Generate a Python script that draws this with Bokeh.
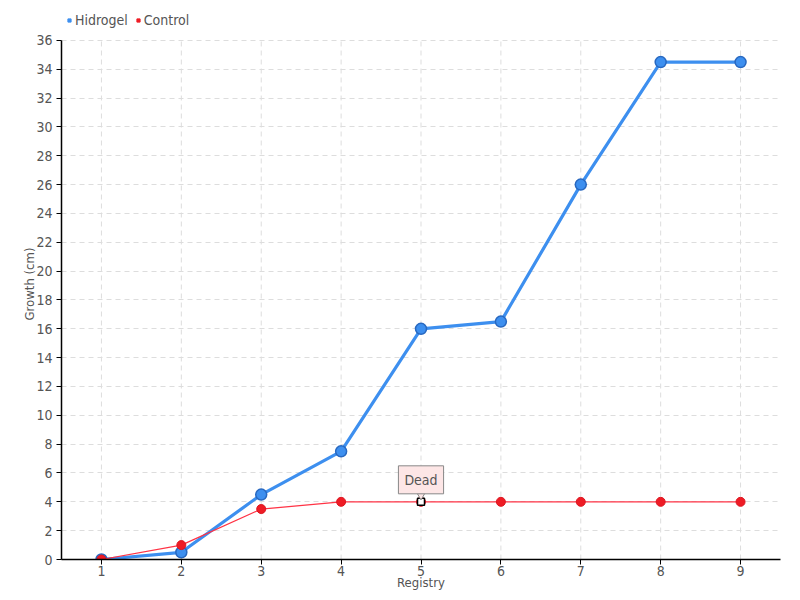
from bokeh.plotting import figure
from bokeh.models import Legend, LegendItem, Label, Range1d, FixedTicker, ColumnDataSource
from bokeh.transform import dodge
from bokeh.embed import file_html
from bokeh.resources import INLINE

registry = [1, 2, 3, 4, 5, 6, 7, 8, 9]
hidrogel = [0, 0.5, 4.5, 7.5, 16, 16.5, 26, 34.5, 34.5]
control = [0, 1, 3.5, 4, 4, 4, 4, 4, 4]
y_ticks = list(range(0, 37, 2))
dead_index = 4
dead_text = "Dead"

FONT = "DejaVu Sans Condensed, Roboto, sans-serif"

Y_MAX = y_ticks[-1]
TOP_PAD = Y_MAX * 32 / 520  # extra room above the axis top for the legend

p = figure(width=792, height=592, output_backend="svg", toolbar_location=None,
           x_range=Range1d(0.5, 9.5), y_range=Range1d(0, Y_MAX + TOP_PAD),
           min_border_left=61, min_border_right=12, min_border_top=8, min_border_bottom=32)
p.outline_line_color = None
p.background_fill_color = "white"
p.xgrid.visible = False

for ax in (p.xaxis[0], p.yaxis[0]):
    ax.axis_line_color = "black"
    ax.axis_line_width = 1.5
    ax.major_tick_line_color = "black"
    ax.major_tick_out = 5
    ax.major_tick_in = 0
    ax.minor_tick_line_color = None
    ax.major_label_text_font = FONT
    ax.major_label_text_font_size = "14px"
    ax.major_label_text_color = "#555555"
    ax.axis_label_text_font = FONT
    ax.axis_label_text_font_size = "13px"
    ax.axis_label_text_color = "#555555"
    ax.axis_label_text_font_style = "normal"

p.xaxis.ticker = FixedTicker(ticks=registry)
p.yaxis.ticker = FixedTicker(ticks=y_ticks)
p.yaxis.bounds = (0, Y_MAX)
p.xaxis.axis_label = "Registry"
p.yaxis.axis_label = "Growth (cm)"
p.xaxis.axis_label_standoff = -4
p.yaxis.axis_label_standoff = -4
p.xaxis.major_label_standoff = 1
p.yaxis.major_label_standoff = 4

p.ygrid.ticker = FixedTicker(ticks=y_ticks)
p.ygrid.grid_line_color = "#dddddd"
p.ygrid.grid_line_dash = "5 4"

# vertical grid lines limited to the axis range
p.segment(x0=registry, y0=[y_ticks[0]] * len(registry), x1=registry, y1=[Y_MAX] * len(registry),
          line_color="#dddddd", line_dash="5 4", line_width=1)

src = ColumnDataSource(dict(x=registry, h=hidrogel, c=control))

p.line("x", "h", source=src, line_color="#3d8fef", line_width=3.2)
p.scatter("x", "h", source=src, size=11, fill_color="#3d8fef", line_color="#2868c0", line_width=1.5)

p.line("x", "c", source=src, line_color="#ff3345", line_width=1.2)
p.scatter("x", "c", source=src, size=9, fill_color="#ee1c25", line_color="#dd1520", line_width=1)

# dead marker
dsrc = ColumnDataSource(dict(x=[registry[dead_index]], y=[control[dead_index]]))
p.scatter("x", "y", source=dsrc, marker="square", size=7,
          fill_color="white", line_color="black", line_width=1.5)

# callout pointer
p.scatter("x", dodge("y", 0.45, range=p.y_range), source=dsrc, marker="inverted_triangle", size=8,
          fill_color="#fde6e6", line_color="#888888", line_width=1)
lab = Label(x=registry[dead_index], y=control[dead_index], text=dead_text,
            x_offset=0, y_offset=8, text_align="center", text_baseline="bottom",
            text_font=FONT, text_font_size="14px", text_color="#555555",
            background_fill_color="#fde6e6", border_line_color="#888888",
            border_line_width=1, padding=6)
p.add_layout(lab)

# legend (swatch renderers with a non-drawable point)
nan = float("nan")
r1 = p.scatter(x=[nan], y=[nan], marker="square", size=7, fill_color="#3d8fef", line_color="#3d8fef")
r2 = p.scatter(x=[nan], y=[nan], marker="square", size=7, fill_color="#ee1c25", line_color="#ee1c25")
legend = Legend(items=[LegendItem(label="Hidrogel", renderers=[r1]),
                       LegendItem(label="Control", renderers=[r2])],
                orientation="horizontal", location="top_left",
                label_text_font=FONT, label_text_font_size="14px", label_text_color="#555555",
                label_height=14, glyph_width=8, glyph_height=8, label_standoff=2, spacing=6,
                padding=0, margin=4, border_line_color=None, background_fill_alpha=0)
p.add_layout(legend)

open("out.html", "w").write(file_html(p, INLINE))
